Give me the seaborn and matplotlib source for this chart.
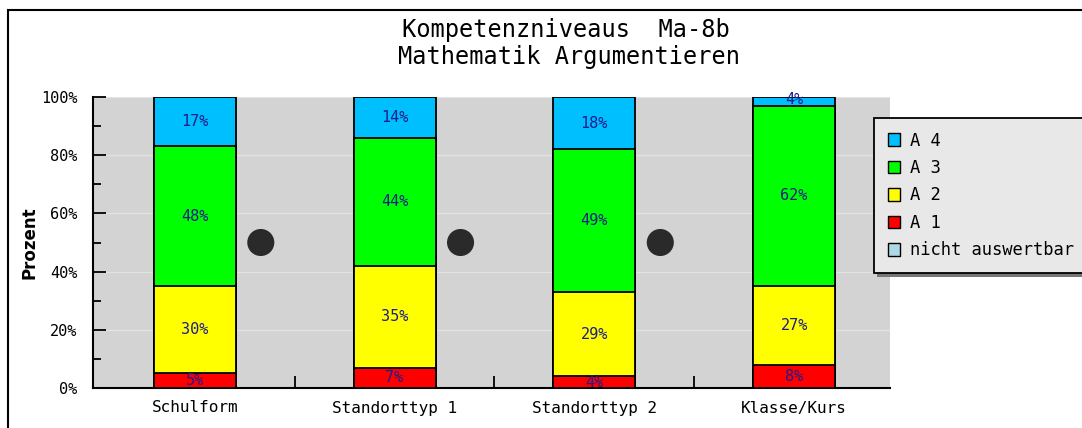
import numpy as np
import pandas as pd
import matplotlib
matplotlib.use("Agg")
import matplotlib.pyplot as plt
from matplotlib.patches import Patch, Rectangle
import seaborn as sns

# Data
categories = ["Schulform", "Standorttyp 1", "Standorttyp 2", "Klasse/Kurs"]
levels = ["A 1", "A 2", "A 3", "A 4"]
a1 = [5, 7, 4, 8]
a2 = [30, 35, 29, 27]
a3 = [48, 44, 49, 62]
a4 = [17, 14, 18, 4]
level_colors = {"A 4": "#00bfff", "A 3": "#00ff00", "A 2": "#ffff00",
                "A 1": "#ff0000", "nicht auswertbar": "#add8e6"}
legend_order = ["A 4", "A 3", "A 2", "A 1", "nicht auswertbar"]
# black markers between the bars (offset from category, value in %)
dot_offset = [0.33, 0.33, 0.33]
dot_value = [50, 50, 50]

df = pd.DataFrame({"cat": categories, "A 1": a1, "A 2": a2, "A 3": a3, "A 4": a4})
cum = df[levels].cumsum(axis=1).clip(upper=100)

sns.set_style("white")
plt.rcParams["font.family"] = ["DejaVu Sans Mono", "DejaVu Sans"]
plt.rcParams["text.color"] = "black"
plt.rcParams["xtick.color"] = "black"
plt.rcParams["ytick.color"] = "black"
plt.rcParams["axes.labelcolor"] = "black"

fig = plt.figure(figsize=(10.82, 4.28), dpi=100)
ax = fig.add_axes([93 / 1082, 1 - 388 / 428, (890 - 93) / 1082, (388 - 97) / 428])
ax.set_facecolor("#d3d3d3")

# stacked bars: draw the cumulative totals from top down
for lev in reversed(levels):
    sns.barplot(x=df["cat"], y=cum[lev], color=level_colors[lev], width=0.41,
                edgecolor="black", linewidth=1.3, saturation=1, ax=ax, zorder=3)

# percentage labels in each segment
for i in range(len(categories)):
    bottom = 0
    for lev in levels:
        v = df[lev][i]
        ax.text(i, min(bottom + v / 2, 99), f"{v}%", ha="center", va="center",
                color="#1c1c8c", fontsize=11, zorder=5)
        bottom += v

# markers
dot_x = [i + o for i, o in enumerate(dot_offset)]
sns.scatterplot(x=dot_x, y=dot_value, s=380, color="#2a2a2a", edgecolor="none",
                ax=ax, zorder=4)

ax.set_xlim(-0.51, 3.48)
ax.set_ylim(0, 100)
ax.set_yticks(range(0, 101, 20))
ax.set_yticklabels([f"{v}%" for v in range(0, 101, 20)])
ax.set_yticks(range(10, 100, 20), minor=True)
ax.set_xticks(range(len(categories)))
ax.set_xticklabels(categories)
ax.set_xticks([0.5, 1.5, 2.5], minor=True)
ax.tick_params(axis="y", which="major", direction="in", length=9, width=1.3,
               labelsize=11, pad=11, left=True)
ax.tick_params(axis="y", which="minor", direction="in", length=6, width=1.3, left=True)
ax.tick_params(axis="x", which="major", length=0, labelsize=11.5, pad=9)
ax.tick_params(axis="x", which="minor", direction="in", length=9, width=1.3, bottom=True)
ax.grid(axis="y", which="major", color="#e2e2e2", linewidth=1, zorder=0)
ax.set_axisbelow(True)
for s in ["top", "right"]:
    ax.spines[s].set_visible(False)
for s in ["left", "bottom"]:
    ax.spines[s].set_color("black")
    ax.spines[s].set_linewidth(1.5)
ax.set_xlabel("")
ax.set_ylabel("Prozent", family="DejaVu Sans", fontweight="bold", fontsize=12,
              labelpad=2)

fig.text(566 / 1082, 1 - 30 / 428, "Kompetenzniveaus  Ma-8b", ha="center",
         va="center", fontsize=17)
fig.text(569 / 1082, 1 - 57 / 428, "Mathematik Argumentieren", ha="center",
         va="center", fontsize=17)

# outer frame
fig.patches.append(Rectangle((8 / 1082, -0.05), 1.1, 1 - 10 / 428 + 0.05,
                             transform=fig.transFigure, fill=False,
                             edgecolor="black", linewidth=1.5))

handles = [Patch(facecolor=level_colors[l], edgecolor="black", linewidth=1)
           for l in legend_order]
# shadow strip under the legend
fig.patches.append(Rectangle((877 / 1082, 1 - 277 / 428), 0.2, 5 / 428,
                             transform=fig.transFigure, facecolor="#777777",
                             edgecolor="none", zorder=1))
leg = fig.legend(handles, legend_order, loc="upper left",
                 bbox_to_anchor=(874 / 1082, 1 - 118 / 428), fontsize=12.3,
                 handlelength=0.75, handleheight=0.75, handletextpad=0.55,
                 labelspacing=0.55, borderpad=0.8, borderaxespad=0,
                 fancybox=False, framealpha=1, facecolor="#e8e8e8",
                 edgecolor="black")
leg.get_frame().set_linewidth(1.3)
leg.set_zorder(2)

fig.savefig("out.png", dpi=100)
